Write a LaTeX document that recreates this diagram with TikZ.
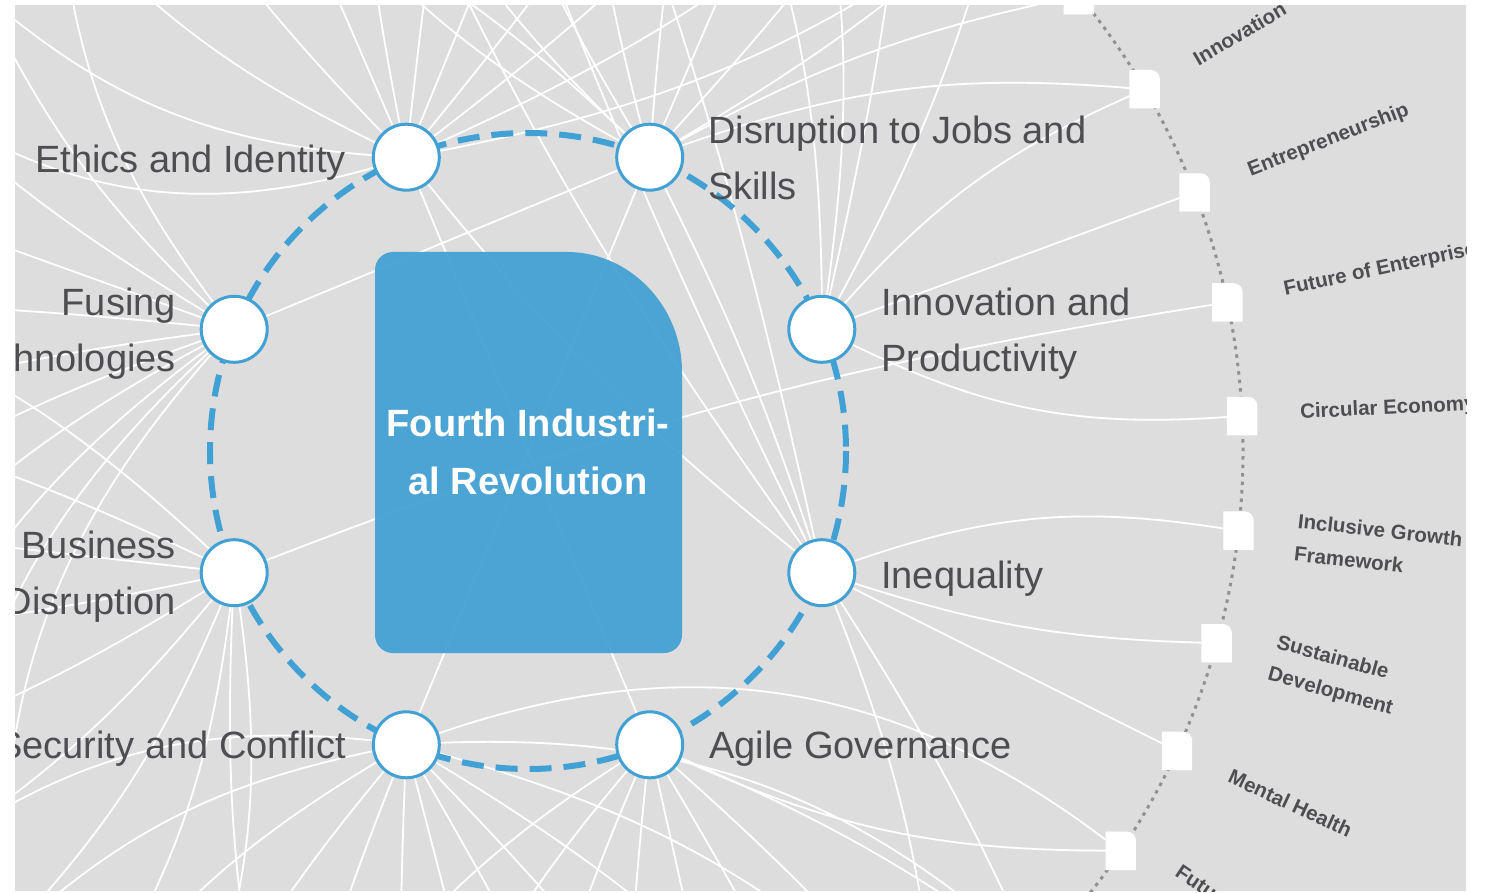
\documentclass[tikz,border=0pt]{standalone}
\usepackage{fontspec}
\setmainfont{Liberation Sans}
\definecolor{fblue}{RGB}{66,161,212}
\definecolor{bggrey}{RGB}{221,221,221}
\definecolor{labgrey}{RGB}{78,78,82}
\definecolor{dotgrey}{RGB}{145,145,145}
\pgfdeclarelayer{back}
\pgfdeclarelayer{edges}
\pgfsetlayers{back,edges,main}
\tikzset{
  wl/.style={draw=white, line width=1.8pt},
  oct/.style={circle, minimum size=66pt, inner sep=0pt, fill=white, draw=fblue, line width=3pt},
  lab/.style={font=\fontsize{38}{56}\selectfont, text=labgrey, inner sep=0pt},
  rlab/.style={font=\fontsize{20.5}{33}\selectfont\bfseries, text=labgrey, inner sep=0pt, anchor=west, align=left},
  docn/.style={rectangle, minimum width=30pt, minimum height=38pt, inner sep=0pt},
  ringdot/.style={draw=dotgrey, line width=3pt, dash pattern=on 3.5pt off 5pt},
  bluering/.style={draw=fblue, line width=6pt, dash pattern=on 22pt off 12pt}
}
\begin{document}
\begin{tikzpicture}[x=1pt,y=-1pt]
\useasboundingbox (0,0) rectangle (1486,893);
\begin{pgfonlayer}{back}
  \fill[white] (0,0) rectangle (1486,893);
  \fill[bggrey] (15,5) rectangle (1466,891);
\end{pgfonlayer}
\begin{scope}
\clip (15,5) rectangle (1466,891);
\coordinate (C) at (528,451);
\foreach \a in {49,58,67,76,86,95,104,113,122,131,140,150,159,168,177,186,195,205,214,223,232,241,250,260,269,278,287,296,305,315}
  \path (C) ++(-\a:715) coordinate (q\a);
% outer dotted ring
\draw[ringdot] (C) ++(-50:715) arc[start angle=-50, end angle=46, radius=715];
% outer ring nodes
\path (C) ++(-39.6:715) node[docn] (rTop) {};
\path (C) ++(-30.4:715) node[docn] (rInno) {};
\path (C) ++(-21.2:715) node[docn] (rEntr) {};
\path (C) ++(-12.0:715) node[docn] (rFutE) {};
\path (C) ++(-2.8:715) node[docn] (rCirc) {};
\path (C) ++(6.4:715) node[docn] (rIncl) {};
\path (C) ++(15.6:715) node[docn] (rSust) {};
\path (C) ++(24.8:715) node[docn] (rMent) {};
\path (C) ++(34.0:715) node[docn] (rFut) {};
\foreach \n in {rTop,rInno,rEntr,rFutE,rCirc,rIncl,rSust,rMent,rFut}
  \fill[white] (\n.south west) -- (\n.north west) -- ([xshift=-9pt]\n.north east)
    .. controls ([xshift=-4pt]\n.north east) and ([yshift=-4pt]\n.north east) .. ([yshift=-9pt]\n.north east)
    -- (\n.south east) -- cycle;
% ring labels
\path (C) ++(-30.4:773) node[rlab, rotate=30.4] (lInno) {Innovation};
\path (C) ++(-21.2:773) node[rlab, rotate=21.2] (lEntr) {Entrepreneurship};
\path (C) ++(-12.0:773) node[rlab, rotate=12.0] (lFutE) {Future of Enterprise};
\path (C) ++(-2.8:773) node[rlab, rotate=2.8] (lCirc) {Circular Economy};
\path (C) ++(6.4:773) node[rlab, rotate=-6.4] (lIncl) {Inclusive Growth\\Framework};
\path (C) ++(15.6:773) node[rlab, rotate=-15.6] (lSust) {Sustainable\\Development};
\path (C) ++(24.8:773) node[rlab, rotate=-24.8] (lMent) {Mental Health};
\path (C) ++(34.0:773) ++(-56:16) node[rlab, rotate=-34.0] (lFut) {Future};
% central box
\fill[fblue, fill opacity=0.94] (393,252) -- (567,252) .. controls (630,252) and (682,306) .. (682,372)
  -- (682,635) .. controls (682,645) and (674,653) .. (664,653)
  -- (393,653) .. controls (383,653) and (375,645) .. (375,635)
  -- (375,270) .. controls (375,260) and (383,252) .. (393,252) -- cycle;
\node[font=\fontsize{38}{58}\selectfont\bfseries, text=white, align=center, inner sep=0pt] (core) at (528,452) {Fourth Industri-\\al Revolution};
% dashed blue ring
\draw[bluering] (C) circle[radius=318];
% octagon nodes
\node[oct] (innov) at (821.8,329.3) {};
\node[oct] (jobs) at (649.7,157.2) {};
\node[oct] (ethics) at (406.3,157.2) {};
\node[oct] (fusing) at (234.2,329.3) {};
\node[oct] (business) at (234.2,572.7) {};
\node[oct] (security) at (406.3,744.8) {};
\node[oct] (agile) at (649.7,744.8) {};
\node[oct] (ineq) at (821.8,572.7) {};
% labels
\node[lab, anchor=base east] (tEthics) at (346,173) {Ethics and Identity};
\node[lab, anchor=west, align=left] (tJobs) at (708,158) {Disruption to Jobs and\\Skills};
\node[lab, anchor=west, align=left] (tInnov) at (881,334) {Innovation and\\Productivity};
\node[lab, anchor=base west] (tIneq) at (881,588) {Inequality};
\node[lab, anchor=base west] (tAgile) at (709,758) {Agile Governance};
\node[lab, anchor=base east] (tSec) at (346,758) {Security and Conflict};
\node[lab, anchor=east, align=right] (tBus) at (176,577) {Business\\Disruption};
\node[lab, anchor=east, align=right] (tFus) at (176,334) {Fusing\\Technologies};
\end{scope}
% connectors
\begin{pgfonlayer}{edges}
\clip (15,5) rectangle (1466,891);
\foreach \src/\dst/\bb in {
  ethics/q49/-12, ethics/q58/-8, ethics/q67/-5, ethics/q76/-3, ethics/q86/0, ethics/q95/2,
  ethics/q104/4, ethics/q113/0, ethics/q122/5, ethics/q131/10, ethics/q140/18, ethics/q150/25,
  ethics/agile/0, ethics/ineq/-6,
  jobs/q49/-5, jobs/q58/-3, jobs/q67/0, jobs/q76/3, jobs/q86/5, jobs/q95/8, jobs/q104/10,
  jobs/q113/14, jobs/q122/-12, jobs/rTop/8, jobs/rInno/12, jobs/fusing/0, jobs/security/0, jobs/ineq/4,
  innov/rEntr/0, innov/rCirc/-15, innov/rInno/12, innov/q49/-6, innov/q58/-3, innov/q67/-10, innov/q76/-12,
  ineq/rIncl/14, ineq/rSust/-8, ineq/rMent/0, ineq/q305/8, ineq/q315/4, ineq/q86/-4, ineq/q95/3, ineq/q104/6,
  agile/rFut/-12, agile/q315/6, agile/q305/4, agile/q296/2, agile/q287/0, agile/q278/-3,
  agile/q269/-6, agile/q260/-10, agile/q250/-14,
  security/q315/22, security/q305/14, security/q296/8, security/q287/4, security/q278/2, security/q269/0,
  security/q260/-2, security/q250/-4, security/q241/-6, security/q232/-10, security/q223/-15,
  security/q214/-20, security/rFut/28,
  business/q168/-10, business/q177/-5, business/q186/0, business/q195/3, business/q205/5,
  business/q214/8, business/q223/10, business/q232/12, business/q241/15, business/q250/-8, business/rFutE/6,
  fusing/q131/15, fusing/q140/10, fusing/q150/5, fusing/q159/0, fusing/q168/-2, fusing/q177/-4,
  fusing/q186/-6, fusing/q195/-10, fusing/q205/-14, fusing/q214/-18, fusing/q223/-22}
  \draw[wl] (\src) to[bend left=\bb] (\dst);
\end{pgfonlayer}
\end{tikzpicture}
\end{document}
